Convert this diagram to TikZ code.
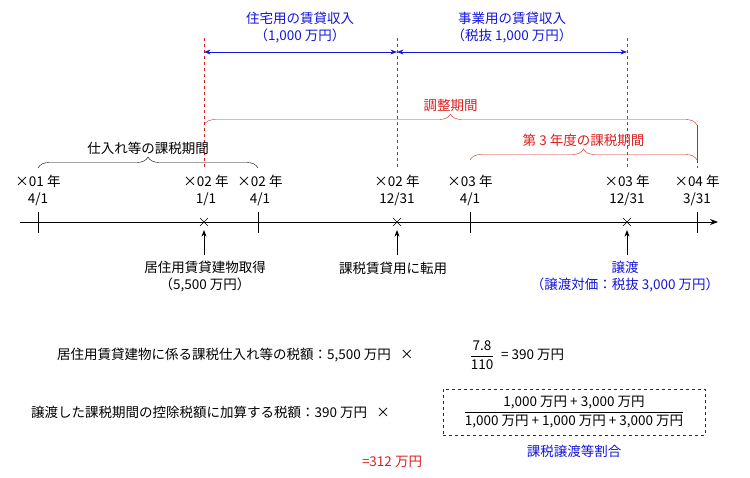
\documentclass[tikz,border=0pt]{standalone}
\usepackage{amsmath}
\usepackage{fontspec}
\setmainfont{Noto Sans CJK JP}
\usetikzlibrary{positioning, decorations.pathreplacing, arrows.meta}
\definecolor{jred}{RGB}{220,30,30}
\definecolor{jblue}{RGB}{20,20,220}
\begin{document}
\begin{tikzpicture}[x=1pt,y=-1pt,
    txt/.style={font=\fontsize{13.5}{17}\selectfont, inner sep=1pt, align=center},
    guide/.style={jred, dashed, thin},
    brc/.style={decorate, decoration={brace, amplitude=11pt}, thin}]
  \useasboundingbox (0,0) rectangle (750,477);
  % timeline
  \coordinate (start) at (20,222);
  \coordinate (end) at (718,222);
  \draw[thick, -{Stealth[length=8pt]}] (start) -- (end);
  \foreach \name/\x in {a/38, c/258, e/470, g/697}
    \draw (\x,212) coordinate (\name) -- (\x,233);
  \foreach \name/\x in {b/204, d/397, f/627}
    \draw (\x,222) coordinate (\name) +(-4,-4) -- +(4,4) +(-4,4) -- +(4,-4);
  % dates
  \node[txt] (la) at (38,191) {×01 年\\4/1};
  \node[txt] (lb) at (206,191) {×02 年\\1/1};
  \node[txt] (lc) at (260,191) {×02 年\\4/1};
  \node[txt] (ld) at (397,191) {×02 年\\12/31};
  \node[txt] (le) at (470,191) {×03 年\\4/1};
  \node[txt] (lf) at (627,191) {×03 年\\12/31};
  \node[txt] (lg) at (697,191) {×04 年\\3/31};
  % guides
  \draw[guide] (204,38) -- (204,168);
  \draw[guide] (397,38) -- (397,168);
  \draw[guide] (627,38) -- (627,168);
  \draw[guide] (697,160) -- (697,168);
  % rent income
  \draw[jblue, thick, {Stealth}-{Stealth}] (204,52) -- (397,52);
  \draw[jblue, thick, {Stealth}-{Stealth}] (397,52) -- (627,52);
  \node[txt, jblue] (rent1) at (300,28) {住宅用の賃貸収入\\（1,000 万円）};
  \node[txt, jblue] (rent2) at (512,28) {事業用の賃貸収入\\（税抜 1,000 万円）};
  % periods
  \draw[brc, jred] (204,125) -- (697,125) node[midway, above=12pt, txt] (adj) {調整期間};
  \draw[jred] (697,125) -- (697,160);
  \draw[brc, jred] (470,160) -- (697,160) node[midway, above=12pt, txt] (third) {第 3 年度の課税期間};
  \draw[brc] (38,168) -- (258,168) node[midway, above=12pt, txt] (buy) {仕入れ等の課税期間};
  % events
  \draw[thick, -{Stealth}] (204,255) -- (204,230);
  \draw[thick, -{Stealth}] (397,255) -- (397,230);
  \draw[thick, -{Stealth}] (627,255) -- (627,230);
  \node[txt] (ev1) at (205,277) {居住用賃貸建物取得\\（5,500 万円）};
  \node[txt] (ev2) at (393,268) {課税賃貸用に転用};
  \node[txt, jblue] (ev3) at (625,277) {譲渡\\（譲渡対価：税抜 3,000 万円）};
  % formulas
  \node[txt, anchor=west] (f1) at (56,355) {居住用賃貸建物に係る課税仕入れ等の税額：5,500 万円 ~ ×};
  \node[txt] (frac1) at (482,355) {$\dfrac{\mbox{7.8}}{\mbox{110}}$};
  \node[txt, anchor=west] (r1) at (500,355) {= 390 万円};
  \node[txt, anchor=west] (f2) at (30,412) {譲渡した課税期間の控除税額に加算する税額：390 万円 ~ ×};
  \node[txt, draw, color=jblue, text=black, dashed, thick, minimum width=262pt, minimum height=46pt] (frac2) at (574,412)
    {$\dfrac{\mbox{1,000 万円 + 3,000 万円}}{\mbox{1,000 万円 + 1,000 万円 + 3,000 万円}}$};
  \node[txt, jblue, below=8pt of frac2] (ratio) {課税譲渡等割合};
  \node[txt, jred] (res) at (392,462) {=312 万円};
\end{tikzpicture}
\end{document}
